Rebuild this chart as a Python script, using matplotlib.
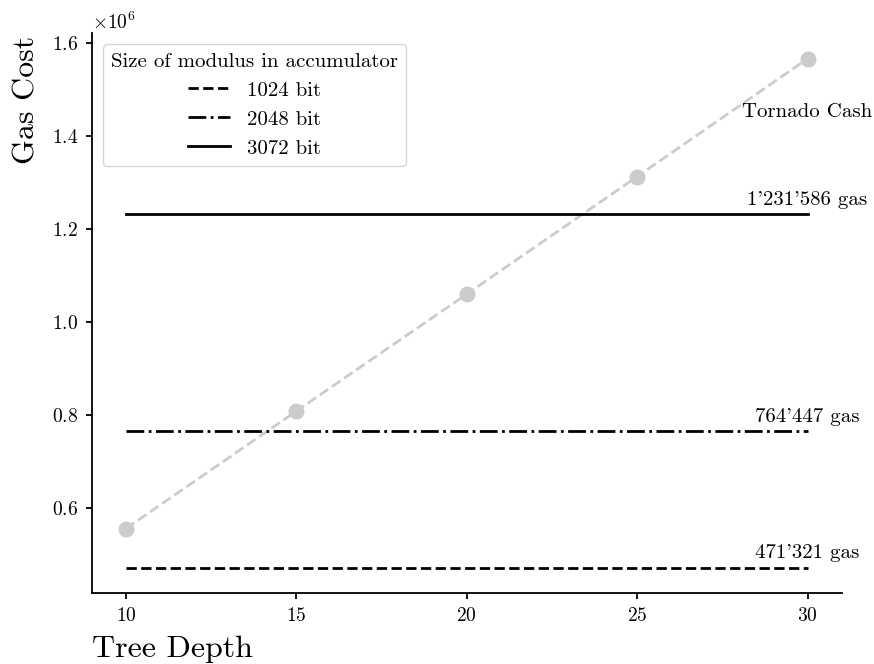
import matplotlib
matplotlib.use('Agg')
import matplotlib.pyplot as plt

# font setup to look like latex output
plt.rcParams['font.family'] = 'cmr10'
plt.rcParams['mathtext.fontset'] = 'cm'
plt.rcParams['axes.formatter.use_mathtext'] = True
plt.rcParams['axes.unicode_minus'] = False

# data
depths = [10, 15, 20, 25, 30]
tornado_gas = [555000, 808000, 1060000, 1313000, 1567000]

modulus_labels = ['1024 bit', '2048 bit', '3072 bit']
modulus_gas = [471321, 764447, 1231586]
modulus_text = ["471'321 gas", "764'447 gas", "1'231'586 gas"]
modulus_styles = ['--', '-.', '-']

fig = plt.figure(figsize=(8.74, 6.64), dpi=100)
ax = fig.add_axes([0.105, 0.107, 0.858, 0.843])

# tornado cash reference line
ax.plot(depths, tornado_gas, color='#cccccc', linestyle='--', linewidth=2,
        marker='o', markersize=10.5)
ax.text(depths[-1], 1452000, 'Tornado Cash', ha='center', va='center', fontsize=15)

# constant cost for each modulus size
for lab, gas, txt, ls in zip(modulus_labels, modulus_gas, modulus_text, modulus_styles):
    ax.plot([depths[0], depths[-1]], [gas, gas], color='black', linestyle=ls,
            linewidth=2, label=lab)
    ax.annotate(txt, (depths[-1], gas), xytext=(0, 4), textcoords='offset points',
                ha='center', va='bottom', fontsize=15)

ax.spines['top'].set_visible(False)
ax.spines['right'].set_visible(False)
ax.spines['left'].set_linewidth(1.3)
ax.spines['bottom'].set_linewidth(1.3)
ax.set_xticks([10, 15, 20, 25, 30])
ax.tick_params(labelsize=14, width=1.3, length=4.5, pad=5.5)
ax.yaxis.get_offset_text().set_fontsize(14)

ax.set_xlabel('Tree Depth', fontsize=23)
ax.set_ylabel('Gas Cost', fontsize=23)
ax.xaxis.set_label_coords(0.0, -0.114)
ax.xaxis.label.set_horizontalalignment('left')
ax.xaxis.label.set_verticalalignment('baseline')
ax.yaxis.set_label_coords(-0.076, 0.996)
ax.yaxis.label.set_horizontalalignment('right')
ax.yaxis.label.set_verticalalignment('baseline')

ax.legend(title='Size of modulus in accumulator', loc='upper left',
          fontsize=15, title_fontsize=15, labelspacing=0.5,
          bbox_to_anchor=(0.0147, 0.98), borderaxespad=0)

fig.savefig('out.png', dpi=100)
